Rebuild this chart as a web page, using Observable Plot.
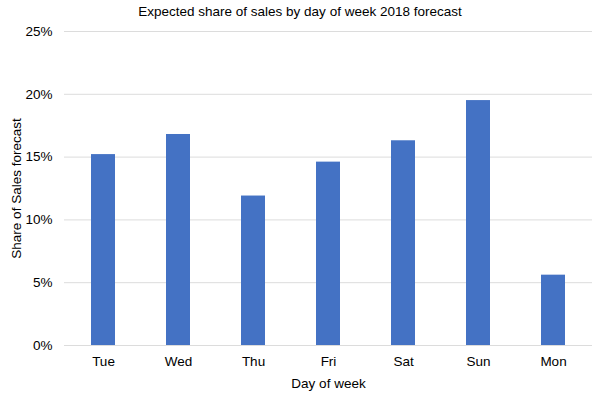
<!DOCTYPE html>
<html>
<head>
<meta charset="utf-8">
<script src="https://cdn.jsdelivr.net/npm/d3@7"></script>
<script src="https://cdn.jsdelivr.net/npm/@observablehq/plot@0.6"></script>
<style>
  body { margin: 0; background: #fff; font-family: "Liberation Sans", Arial, Helvetica, sans-serif; }
  #title { height: 24px; line-height: 24px; font-size: 13.5px; text-align: center; color: #000; width: 600px; }
</style>
</head>
<body>
<div id="title">Expected share of sales by day of week 2018 forecast</div>
<div id="chart"></div>
<script>
const days = ["Tue", "Wed", "Thu", "Fri", "Sat", "Sun", "Mon"];
const shares = [15.2, 16.8, 11.9, 14.6, 16.3, 19.5, 5.6];
const yTicks = [0, 5, 10, 15, 20, 25];

const data = days.map((d, i) => ({day: d, share: shares[i]}));

const chart = Plot.plot({
  width: 600,
  height: 371,
  marginTop: 7,
  marginBottom: 50,
  marginLeft: 64,
  marginRight: 8,
  style: {fontFamily: '"Liberation Sans", Arial, Helvetica, sans-serif', fontSize: "13.5px", color: "#000", background: "#fff"},
  x: {domain: days, paddingInner: 0.685, paddingOuter: 0.3425, label: null},
  y: {domain: [0, 25], label: null},
  marks: [
    Plot.gridY(yTicks, {stroke: "#dcdcdc", strokeOpacity: 1, strokeWidth: 1}),
    Plot.barY(data, {x: "day", y: "share", fill: "#4472C4"}),
    Plot.axisY(yTicks, {tickSize: 0, tickPadding: 12, tickFormat: d => d + "%", fontSize: 13.5,
      label: "Share of Sales forecast", labelAnchor: "center", labelArrow: "none", labelOffset: 53}),
    Plot.axisX({tickSize: 0, tickPadding: 11, fontSize: 13.5,
      label: "Day of week", labelAnchor: "center", labelArrow: "none", labelOffset: 42})
  ]
});
document.getElementById("chart").appendChild(chart);
</script>
</body>
</html>
